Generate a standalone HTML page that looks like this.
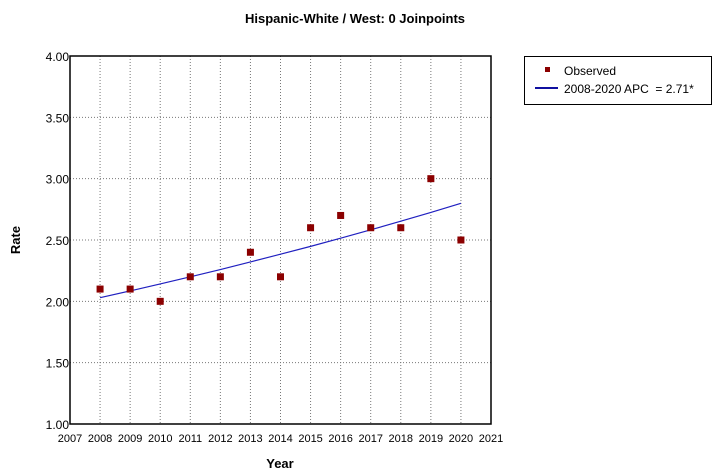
<!DOCTYPE html>
<html><head><meta charset="utf-8"><style>
html,body{margin:0;padding:0;background:#fff;}
svg{display:block;font-family:"Liberation Sans",sans-serif;}
</style></head><body>
<svg id="chart" width="717" height="476" viewBox="0 0 717 476">
<text x="355" y="23" text-anchor="middle" font-size="13" font-weight="bold">Hispanic-White / West: 0 Joinpoints</text>
<text x="280" y="468" text-anchor="middle" font-size="13" font-weight="bold">Year</text>
<text x="20" y="240" text-anchor="middle" font-size="13" font-weight="bold" transform="rotate(-90 20 240)">Rate</text>
<g id="grid"></g>
<g id="axes"></g>
<g id="series"></g>
<g>
<rect x="524.5" y="56.5" width="187" height="48" fill="#fff" stroke="#000"/>
<rect x="545" y="67" width="5" height="5" fill="#8b0000"/>
<text x="564" y="75" font-size="12">Observed</text>
<line x1="535" y1="88" x2="558" y2="88" stroke="#1010a0" stroke-width="2"/>
<text x="564" y="93" font-size="12">2008-2020 APC &#160;= 2.71*</text>
</g>
</svg>
<script>
const years=[2008,2009,2010,2011,2012,2013,2014,2015,2016,2017,2018,2019,2020];
const observed=[2.1,2.1,2.0,2.2,2.2,2.4,2.2,2.6,2.7,2.6,2.6,3.0,2.5];
const fitted=[2.03,2.085,2.142,2.200,2.259,2.321,2.384,2.448,2.515,2.583,2.653,2.725,2.799];
const xTicks=[2007,2008,2009,2010,2011,2012,2013,2014,2015,2016,2017,2018,2019,2020,2021];
const yTicks=[1.00,1.50,2.00,2.50,3.00,3.50,4.00];
const NS="http://www.w3.org/2000/svg";
const L=70,R=491,T=56,B=424;
const xs=v=>L+(v-2007)/(2021-2007)*(R-L);
const ys=v=>B-(v-1)/(4-1)*(B-T);
function mk(tag,attrs,parent){const e=document.createElementNS(NS,tag);for(const k in attrs)e.setAttribute(k,attrs[k]);parent.appendChild(e);return e;}
const grid=document.getElementById('grid'),axes=document.getElementById('axes'),series=document.getElementById('series');
xTicks.forEach(t=>{
  if(t>2007&&t<2021){const g=mk('line',{x1:xs(t),x2:xs(t),y1:T,y2:B,stroke:'#777','stroke-dasharray':'1,2'},grid);
  
  }
  const tx=mk('text',{x:xs(t),y:442,'text-anchor':'middle','font-size':'11'},axes);tx.textContent=t;
  
  
});
yTicks.forEach(t=>{
  if(t>1&&t<4){const g=mk('line',{x1:L,x2:R,y1:ys(t),y2:ys(t),stroke:'#777','stroke-dasharray':'1,2'},grid);
  
  }
  const tx=mk('text',{x:L-1,y:ys(t)+5,'text-anchor':'end','font-size':'12'},axes);tx.textContent=t.toFixed(2);
  
  
});
const fr=mk('rect',{x:L,y:T,width:R-L,height:B-T,fill:'none',stroke:'#000','stroke-width':'1.5'},axes);


const pl=mk('polyline',{points:years.map((y,i)=>xs(y)+','+ys(fitted[i])).join(' '),fill:'none',stroke:'#2020c0','stroke-width':'1.2'},series);


years.forEach((y,i)=>{
  const r=mk('rect',{x:xs(y)-3.5,y:ys(observed[i])-3.5,width:7,height:7,fill:'#8b0000'},series);
  
  
});
</script>
</body></html>
